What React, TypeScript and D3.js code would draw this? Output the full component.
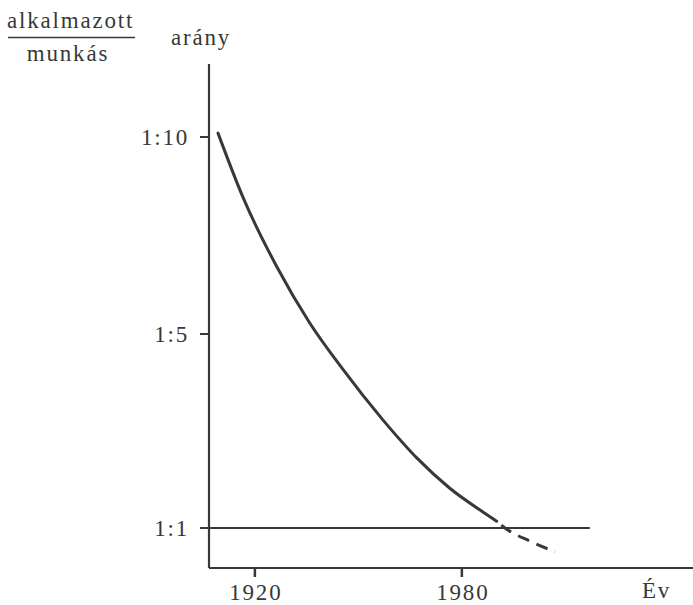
import React from "react";
import { scaleLinear, line, curveMonotoneX } from "d3";

// curve (year, ratio 1:n)
const solidYears = [1909.3, 1916.5, 1926.4, 1935.9, 1945.2, 1957.1, 1967.0, 1976.5, 1986.1, 1990.1];
const solidValues = [10.1, 8.48, 6.7, 5.28, 4.3, 3.23, 2.44, 1.82, 1.33, 1.14];
// forecast part, drawn dashed
const dashedYears = [1990.1, 1992.5, 1999.7, 2007.0];
const dashedValues = [1.14, 1.0, 0.73, 0.51];

const yTicks = [10, 5, 1];
const yTickLabels = ["1:10", "1:5", "1:1"];
const xTicks = [1920, 1980];
const refLineEnd = 2017.1;

const ink = "#383838";
const txt = {
  fontFamily: "'Liberation Serif', 'Times New Roman', serif",
  fontSize: 23,
  letterSpacing: 1.8,
  fill: ink,
};

export default function App() {
  const x = scaleLinear().domain([1906.7, 2047]).range([209, 693]);
  // printed ticks are not evenly spaced -> piecewise scale
  const y = scaleLinear().domain([1, 5, 10]).range([528, 334, 137]);

  const path = line<[number, number]>()
    .x((d) => x(d[0]))
    .y((d) => y(d[1]))
    .curve(curveMonotoneX);

  const solidPath = path(solidYears.map((yr, i) => [yr, solidValues[i]]));
  const dashedPath = path(dashedYears.map((yr, i) => [yr, dashedValues[i]]));

  const x0 = x.range()[0];
  const axisY = 568;

  return (
    <svg
      width={693}
      height={605}
      style={{ position: "absolute", left: 0, top: 0, background: "#fff" }}
    >
      {/* header labels */}
      <text x={7} y={28} style={txt}>alkalmazott</text>
      <line x1={8} x2={135} y1={37.5} y2={37.5} stroke={ink} strokeWidth={1.5} />
      <text x={68} y={61} textAnchor="middle" style={txt}>munkás</text>
      <text x={171} y={45} style={txt}>arány</text>

      {/* y axis */}
      <line x1={x0} x2={x0} y1={64} y2={axisY} stroke={ink} strokeWidth={2.2} />
      {yTicks.map((t, i) => (
        <g key={t}>
          <line x1={200} x2={t === 1 ? x(refLineEnd) : x0} y1={y(t)} y2={y(t)} stroke={ink} strokeWidth={2} />
          <text x={189} y={y(t) + 8} textAnchor="end" style={txt}>
            {yTickLabels[i]}
          </text>
        </g>
      ))}

      {/* x axis */}
      <line x1={x0} x2={693} y1={axisY} y2={axisY} stroke={ink} strokeWidth={2.2} />
      {xTicks.map((t) => (
        <g key={t}>
          <line x1={x(t)} x2={x(t)} y1={axisY} y2={axisY + 9} stroke={ink} strokeWidth={2.5} />
          <text x={x(t) + 1} y={600} textAnchor="middle" style={txt}>{t}</text>
        </g>
      ))}
      <text x={642} y={598} style={txt}>Év</text>

      {/* curve */}
      <path d={solidPath ?? ""} fill="none" stroke={ink} strokeWidth={3} strokeLinecap="round" />
      <path d={dashedPath ?? ""} fill="none" stroke={ink} strokeWidth={3} strokeDasharray="12 8" strokeDashoffset={-6} />
    </svg>
  );
}
